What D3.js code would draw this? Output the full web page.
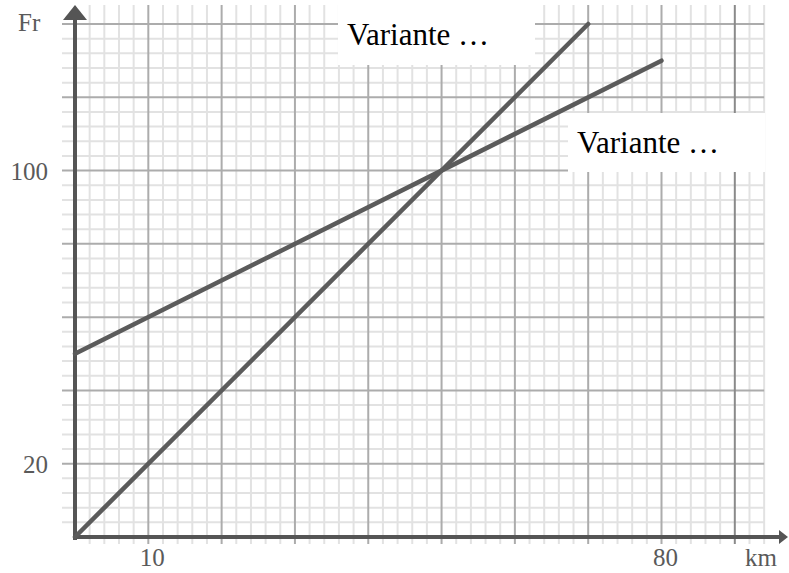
<!DOCTYPE html>
<html><head><meta charset="utf-8">
<script src="https://cdn.jsdelivr.net/npm/d3@7"></script>
<style>html,body{margin:0;padding:0;background:#fff}svg{display:block}</style>
</head><body>
<script>
// Data
const seriesNames = ["Variante …", "Variante …"];
const steepKm = [0, 70];
const steepFr = [0, 140];
const flatKm = [0, 80];
const flatFr = [50, 130];
const xTickLabels = [10, 80];
const yTickLabels = [20, 100];
const xUnit = "km";
const yUnit = "Fr";

const W = 789, H = 573;
const svg = d3.select("body").append("svg").attr("width", W).attr("height", H);

const x = d3.scaleLinear().domain([0, 80]).range([75, 661.5]);
const y = d3.scaleLinear().domain([0, 140]).range([537, 24]);

const xMaxGrid = 94, yTopPx = 5, gridLeft = 62, gridBottom = 544;

// minor grid
const g = svg.append("g");
const minorX = d3.range(2, xMaxGrid + 0.01, 2).filter(v => v % 10 !== 0);
const minorY = d3.range(4, 140.01, 4).filter(v => v % 20 !== 0);
g.selectAll(".mvx").data(minorX).join("line")
  .attr("x1", d => x(d)).attr("x2", d => x(d)).attr("y1", yTopPx).attr("y2", gridBottom)
  .attr("stroke", "#e2e2e2").attr("stroke-width", 2);
g.selectAll(".mhy").data(minorY).join("line")
  .attr("y1", d => y(d)).attr("y2", d => y(d)).attr("x1", gridLeft).attr("x2", x(xMaxGrid))
  .attr("stroke", "#e2e2e2").attr("stroke-width", 2);
// major grid
const majorX = d3.range(10, 91, 10);
const majorY = d3.range(20, 141, 20);
g.selectAll(".Mhy").data(majorY).join("line")
  .attr("y1", d => y(d)).attr("y2", d => y(d)).attr("x1", gridLeft).attr("x2", x(xMaxGrid))
  .attr("stroke", "#acacac").attr("stroke-width", 2);
g.selectAll(".Mvx").data(majorX).join("line")
  .attr("x1", d => x(d)).attr("x2", d => x(d)).attr("y1", yTopPx).attr("y2", gridBottom)
  .attr("stroke", d => d === 90 ? "#8a8a8a" : "#acacac").attr("stroke-width", 2);

// axes
const axisColor = "#555";
svg.append("line").attr("x1", x(0)).attr("x2", 779).attr("y1", y(0)).attr("y2", y(0))
  .attr("stroke", axisColor).attr("stroke-width", 4);
svg.append("path").attr("d", `M779,${y(0)-7}L788,${y(0)}L779,${y(0)+7}Z`).attr("fill", axisColor);
svg.append("line").attr("x1", x(0)).attr("x2", x(0)).attr("y1", 540).attr("y2", 18)
  .attr("stroke", axisColor).attr("stroke-width", 4);
svg.append("path").attr("d", `M${x(0)-12},20L${x(0)},5L${x(0)+12},20Z`).attr("fill", axisColor);

// data lines
const line = d3.line().x(d => x(d[0])).y(d => y(d[1]));
const series = [d3.zip(steepKm, steepFr), d3.zip(flatKm, flatFr)];
svg.selectAll(".series").data(series).join("path")
  .attr("d", line).attr("fill", "none").attr("stroke", "#5b5b5b")
  .attr("stroke-width", 4.5).attr("stroke-linecap", "round");

// tick labels
const tickFont = "'Liberation Serif', 'Times New Roman', serif";
const lblColor = "#5a5a5a";
svg.selectAll(".xt").data(xTickLabels).join("text")
  .attr("x", d => x(d) + 4).attr("y", 566).attr("text-anchor", "middle")
  .attr("font-family", tickFont).attr("font-size", 25).attr("fill", lblColor).text(d => d);
svg.selectAll(".yt").data(yTickLabels).join("text")
  .attr("x", 48).attr("y", d => y(d) + 9).attr("text-anchor", "end")
  .attr("font-family", tickFont).attr("font-size", 25).attr("fill", lblColor).text(d => d);
svg.append("text").attr("x", 761).attr("y", 566).attr("text-anchor", "middle")
  .attr("font-family", tickFont).attr("font-size", 25).attr("fill", lblColor).text(xUnit);
svg.append("text").attr("x", 18).attr("y", 31)
  .attr("font-family", tickFont).attr("font-size", 25).attr("fill", lblColor).text(yUnit);

// labels in white boxes
const boxes = [{x0: 338, y0: 5, w: 197, h: 60}, {x0: 568, y0: 113, w: 197, h: 59}];
boxes.forEach((b, i) => {
  svg.append("rect").attr("x", b.x0).attr("y", b.y0).attr("width", b.w).attr("height", b.h).attr("fill", "#fff");
  svg.append("text").attr("x", b.x0 + 9).attr("y", b.y0 + 40)
    .attr("font-family", tickFont).attr("font-size", 31).attr("fill", "#000").text(seriesNames[i]);
});
</script>
</body></html>
